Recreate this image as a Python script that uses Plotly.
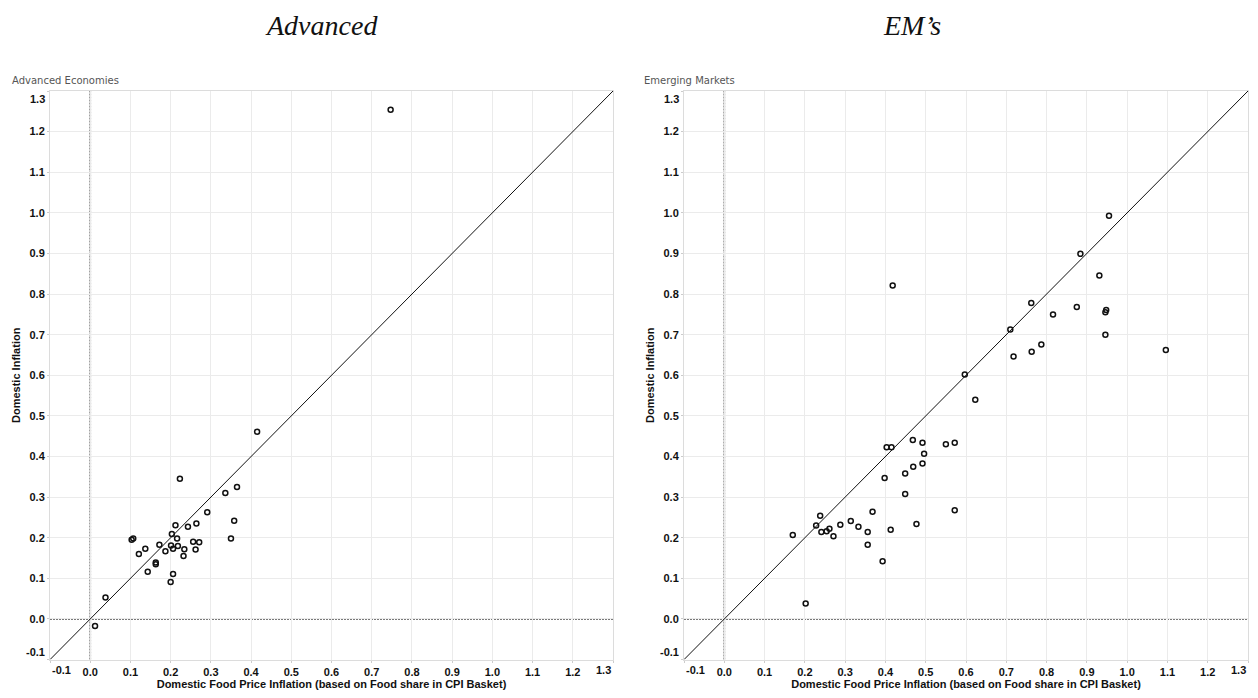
import plotly.graph_objects as go

# ---- data ----
adv_x = [0.415, 0.223, 0.336, 0.365, 0.291, 0.358, 0.350, 0.212, 0.243, 0.264,
         0.203, 0.216, 0.256, 0.271, 0.103, 0.107, 0.172, 0.201, 0.218, 0.206,
         0.234, 0.137, 0.187, 0.262, 0.121, 0.232, 0.163, 0.163, 0.143, 0.206,
         0.200, 0.038, 0.012, 0.747]
adv_y = [0.461, 0.345, 0.310, 0.325, 0.263, 0.242, 0.198, 0.231, 0.227, 0.235,
         0.209, 0.198, 0.190, 0.189, 0.195, 0.198, 0.183, 0.181, 0.180, 0.173,
         0.172, 0.173, 0.167, 0.171, 0.160, 0.155, 0.139, 0.135, 0.116, 0.111,
         0.091, 0.053, -0.017, 1.254]

em_x = [0.597, 0.623, 0.468, 0.492, 0.550, 0.572, 0.403, 0.415, 0.496, 0.492,
        0.469, 0.449, 0.398, 0.449, 0.572, 0.368, 0.238, 0.314, 0.288, 0.477,
        0.228, 0.333, 0.261, 0.254, 0.241, 0.356, 0.413, 0.271, 0.170, 0.356,
        0.393, 0.202,
        0.955, 0.884, 0.931, 0.418, 0.762, 0.875, 0.816, 0.948, 0.946, 0.710,
        0.946, 0.787, 1.096, 0.763, 0.718]
em_y = [0.602, 0.540, 0.441, 0.434, 0.430, 0.434, 0.423, 0.423, 0.407, 0.383,
        0.375, 0.358, 0.347, 0.308, 0.268, 0.264, 0.254, 0.241, 0.232, 0.234,
        0.230, 0.227, 0.222, 0.216, 0.214, 0.214, 0.220, 0.204, 0.207, 0.183,
        0.142, 0.038,
        0.993, 0.899, 0.846, 0.821, 0.778, 0.768, 0.750, 0.761, 0.755, 0.713,
        0.700, 0.676, 0.662, 0.658, 0.646]

diag_range = [-0.1, 1.3]
axis_range = [-0.1, 1.3]
tick_vals = [round(-0.1 + 0.1 * i, 1) for i in range(15)]
tick_text = ["%.1f" % v for v in tick_vals]

panel_titles = ["Advanced Economies", "Emerging Markets"]
big_titles = ["Advanced", "EM\u2019s"]
x_title = "Domestic Food Price Inflation (based on Food share in CPI Basket)"
y_title = "Domestic Inflation"

# page has an 8px body margin; figure sized to fit inside the window
OFF = 8
W, H = 1250, 682


def fx(px):
    return (px - OFF) / W


def fy(py):
    return (H - (py - OFF)) / H


left_dom = [fx(50), fx(613)]
right_dom = [fx(684), fx(1248)]
y_dom = [fy(659.6), fy(91)]

fig = go.Figure()

marker = dict(symbol="circle-open", size=5, color="#111111",
              line=dict(width=1.5, color="#111111"))

for xs, ys, xa, ya in [(adv_x, adv_y, "x", "y"), (em_x, em_y, "x2", "y2")]:
    fig.add_trace(go.Scatter(x=diag_range, y=diag_range, mode="lines",
                             line=dict(color="#111111", width=1),
                             xaxis=xa, yaxis=ya, hoverinfo="skip",
                             showlegend=False))
    fig.add_trace(go.Scatter(x=xs, y=ys, mode="markers", marker=marker,
                             xaxis=xa, yaxis=ya, showlegend=False))

tick_font = dict(family="Liberation Sans, Arial, sans-serif", size=11,
                 color="#111111")
title_font = dict(family="Liberation Sans, Arial, sans-serif", size=11,
                  color="#111111")

# end labels are drawn as edge-aligned annotations (as in the original)
inner_text = ["<b>%s</b>" % t for t in tick_text]
inner_text[0] = ""
inner_text[-1] = ""


def axis(dom, anchor, title, standoff):
    return dict(domain=dom, anchor=anchor, range=axis_range,
                automargin=False,
                tickmode="array", tickvals=tick_vals,
                ticktext=inner_text,
                tickfont=tick_font, showgrid=True, gridcolor="#ebebeb",
                gridwidth=1, zeroline=False, showline=True, mirror=True,
                linecolor="#dcdcdc", linewidth=1, ticks="outside",
                ticklen=2, tickcolor="#cccccc",
                title=dict(text="<b>%s</b>" % title, font=title_font,
                           standoff=standoff))


fig.update_layout(
    width=W, height=H,
    template="none",
    margin=dict(l=0, r=0, t=0, b=0, pad=0),
    paper_bgcolor="white", plot_bgcolor="white",
    xaxis=axis(left_dom, "y", x_title, 10),
    yaxis=axis(y_dom, "x", y_title, 6),
    xaxis2=axis(right_dom, "y2", x_title, 10),
    yaxis2=axis(y_dom, "x2", y_title, 6),
)

# dotted zero lines
for xr, yr in [("x", "y"), ("x2", "y2")]:
    fig.add_shape(type="line", xref=xr, yref=yr + " domain", x0=0, x1=0,
                  y0=0, y1=1, line=dict(color="#7a7a7a", width=1.8,
                                        dash="2px,1px"),
                  layer="below")
    fig.add_shape(type="line", xref=xr + " domain", yref=yr, x0=0, x1=1,
                  y0=0, y1=0, line=dict(color="#7a7a7a", width=1.8,
                                        dash="2px,1px"),
                  layer="below")

# end tick labels, kept inside the plot span
for xr, yr in [("x", "y"), ("x2", "y2")]:
    # x axis ends
    fig.add_annotation(text="<b>%s</b>" % tick_text[0], xref=xr + " domain",
                       yref=yr + " domain", x=0, y=0, xanchor="left",
                       yanchor="top", yshift=-2, showarrow=False,
                       font=tick_font)
    fig.add_annotation(text="<b>%s</b>" % tick_text[-1], xref=xr + " domain",
                       yref=yr + " domain", x=1, y=0, xanchor="right",
                       yanchor="top", yshift=-2, showarrow=False,
                       font=tick_font)
    # y axis ends
    fig.add_annotation(text="<b>%s</b>" % tick_text[0], xref=xr + " domain",
                       yref=yr + " domain", x=0, y=0, xanchor="right",
                       yanchor="bottom", xshift=-3, showarrow=False,
                       font=tick_font)
    fig.add_annotation(text="<b>%s</b>" % tick_text[-1], xref=xr + " domain",
                       yref=yr + " domain", x=0, y=1, xanchor="right",
                       yanchor="top", xshift=-3, showarrow=False,
                       font=tick_font)

# panel labels
for text, px in zip(panel_titles, [10, 642]):
    fig.add_annotation(text=text, x=fx(px), y=fy(80), xref="paper",
                       yref="paper", xanchor="left", yanchor="middle",
                       showarrow=False,
                       font=dict(family="DejaVu Sans, sans-serif", size=10,
                                 color="#555555"))

# big italic headings
for text, px in zip(big_titles, [321, 912]):
    fig.add_annotation(text="<i>%s</i>" % text, x=fx(px), y=1.0,
                       xref="paper", yref="paper", xanchor="center",
                       yanchor="top", showarrow=False,
                       font=dict(family="Liberation Serif, Times New Roman, serif",
                                 size=28, color="#111111"))

fig.write_html("out.html")
